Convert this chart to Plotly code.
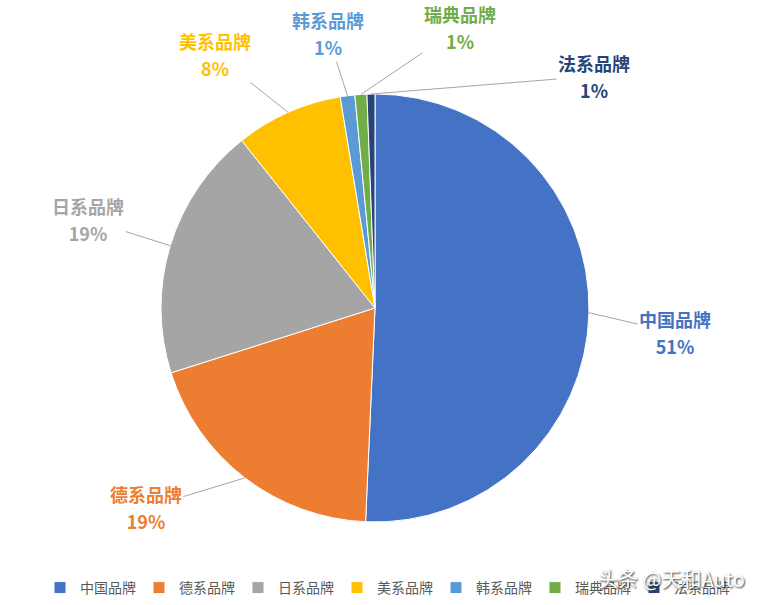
import math
import plotly.graph_objects as go

labels = ["中国品牌", "德系品牌", "日系品牌", "美系品牌", "韩系品牌", "瑞典品牌", "法系品牌"]
values = [50.7, 19.4, 19.2, 8.1, 1.1, 0.9, 0.6]
pct_text = ["51%", "19%", "19%", "8%", "1%", "1%", "1%"]
colors = ["#4472C4", "#ED7D31", "#A5A5A5", "#FFC000", "#5B9BD5", "#70AD47", "#264478"]
label_colors = ["#4472C4", "#ED7D31", "#A5A5A5", "#FFC000", "#5B9BD5", "#70AD47", "#264478"]
# label text offsets (pixels) from slice edge midpoint
label_dx = [86, -99, -82, -73, -20, 99, 223]
label_dy = [20, 30, -26, -58, -62, -67, -18]

W, H = 761, 605
cx_px, cy_px, r_px = 375, 308, 214
dom_x = [(cx_px - r_px) / W, (cx_px + r_px) / W]
dom_y = [(H - cy_px - r_px) / H, (H - cy_px + r_px) / H]

FONT = "Noto Sans CJK SC, Noto Sans, sans-serif"

fig = go.Figure(go.Pie(
    labels=labels, values=values, sort=False, direction="clockwise", rotation=0,
    marker=dict(colors=colors, line=dict(color="white", width=1)),
    textinfo="none", hoverinfo="label+percent",
    domain=dict(x=dom_x, y=dom_y),
))

total = sum(values)
cum = 0.0
annotations = []
for i, v in enumerate(values):
    mid = (cum + v / 2) / total * 2 * math.pi
    cum += v
    tx = cx_px + r_px * math.sin(mid)
    ty = cy_px - r_px * math.cos(mid)
    annotations.append(dict(
        x=tx / W, y=(H - ty) / H, xref="paper", yref="paper",
        text=(f"<span style='font-size:18px'><b>{labels[i]}</b></span><br>"
              f"<span style='font-size:18px'><b>{pct_text[i]}</b></span>"),
        showarrow=True, arrowhead=0, arrowwidth=1, arrowcolor="#A6A6A6",
        ax=label_dx[i], ay=label_dy[i], standoff=0,
        font=dict(family=FONT, size=21, color=label_colors[i]),
        align="center",
    ))

annotations.append(dict(
    x=671 / W, y=(H - 578) / H, xref="paper", yref="paper",
    xanchor="center", yanchor="middle",
    text="头条 @天和Auto", showarrow=False,
    font=dict(family=FONT, size=20, color="white", shadow="1px 1px 2px #333"),
))

fig.update_layout(
    width=W, height=H,
    margin=dict(l=0, r=0, t=0, b=0, autoexpand=False),
    paper_bgcolor="white", plot_bgcolor="white",
    font=dict(family=FONT),
    annotations=annotations,
    showlegend=True,
    legend=dict(
        orientation="h", x=40 / W, y=(H - 588) / H, xanchor="left", yanchor="middle",
        font=dict(family=FONT, size=14, color="#595959"),
        entrywidth=54, entrywidthmode="pixels", traceorder="normal",
        itemwidth=30,
    ),
)

fig.write_html("out.html", config={"displayModeBar": False},
               post_script="document.body.style.margin='0';document.body.style.overflow='hidden';")
